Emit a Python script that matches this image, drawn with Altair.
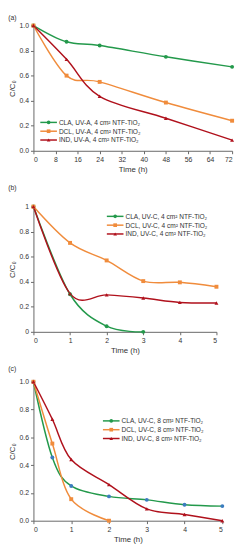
import altair as alt
import pandas as pd

FONT = "Liberation Sans"

# ---- data ----
names_a = ["CLA, UV-A, 4 cm² NTF-TiO₂", "DCL, UV-A, 4 cm² NTF-TiO₂", "IND,  UV-A, 4 cm² NTF-TiO₂"]
t_a = [0, 12, 24, 48, 72]
cla_a = [1.0, 0.87, 0.84, 0.75, 0.67]
dcl_a = [1.0, 0.60, 0.55, 0.385, 0.24]
ind_a = [1.0, 0.73, 0.435, 0.26, 0.085]

names_b = ["CLA, UV-C, 4 cm² NTF-TiO₂", "DCL, UV-C, 4 cm² NTF-TiO₂", "IND,  UV-C, 4 cm² NTF-TiO₂"]
t_b_cla = [0, 1, 2, 3]
cla_b = [1.0, 0.30, 0.045, 0.0]
t_b = [0, 1, 2, 3, 4, 5]
dcl_b = [1.0, 0.71, 0.57, 0.405, 0.395, 0.36]
ind_b = [1.0, 0.305, 0.295, 0.27, 0.235, 0.23]

names_c = ["CLA, UV-C, 8 cm² NTF-TiO₂", "DCL, UV-C, 8 cm² NTF-TiO₂", "IND,  UV-C, 8 cm² NTF-TiO₂"]
t_c = [0, 0.5, 1, 2, 3, 4, 5]
cla_c = [1.0, 0.455, 0.25, 0.175, 0.15, 0.115, 0.105]
t_c_dcl = [0, 0.5, 1, 2]
dcl_c = [1.0, 0.555, 0.155, 0.0]
ind_c = [1.0, 0.73, 0.44, 0.26, 0.085, 0.045, 0.0]

GREEN = "#23994b"
ORANGE = "#f08c3c"
RED = "#b0111c"
BLUE = "#3b7cbf"
SHAPES = ["circle", "square", "triangle-up"]


def long_df(names, series):
    rows = []
    for name, (ts, vs) in zip(names, series):
        for t, v in zip(ts, vs):
            rows.append({"series": name, "t": t, "v": v})
    return pd.DataFrame(rows)


def panel(title, names, series, xmax, xticks, width, height, yfmt,
          line_colors, marker_colors, lx, ly, toff):
    df = long_df(names, series)
    x = alt.X("t:Q", scale=alt.Scale(domain=[0, xmax], nice=False),
              axis=alt.Axis(values=xticks, title="Time (h)", format="d"))
    y = alt.Y("v:Q", scale=alt.Scale(domain=[0, 1], nice=False),
              axis=alt.Axis(values=[0, 0.2, 0.4, 0.6, 0.8, 1.0], format=yfmt,
                            title="C/C₀"))
    lines = alt.Chart(df).mark_line(interpolate="cardinal", strokeWidth=1.5).encode(
        x=x, y=y,
        color=alt.Color("series:N", scale=alt.Scale(domain=names, range=line_colors), legend=None),
    )
    pts = alt.Chart(df).mark_point(filled=True, size=16, opacity=1, strokeWidth=0).encode(
        x=x, y=y,
        fill=alt.Fill("series:N", scale=alt.Scale(domain=names, range=marker_colors), legend=None),
        shape=alt.Shape("series:N", scale=alt.Scale(domain=names, range=SHAPES), legend=None),
    )
    layers = [lines, pts]
    for i, name in enumerate(names):
        yy = ly + i * 9
        one = pd.DataFrame({"label": [name]})
        layers.append(alt.Chart(one).mark_rule(color=line_colors[i], strokeWidth=1.5).encode(
            x=alt.value(lx), x2=alt.value(lx + 17), y=alt.value(yy)))
        layers.append(alt.Chart(one).mark_point(filled=True, size=14, opacity=1, strokeWidth=0).encode(
            x=alt.value(lx + 8.5), y=alt.value(yy), fill=alt.value(line_colors[i]),
            shape=alt.value(SHAPES[i])))
        layers.append(alt.Chart(one).mark_text(align="left", baseline="middle", fontSize=6.7,
                                              font=FONT, color="#333333").encode(
            x=alt.value(lx + 19), y=alt.value(yy + 0.5), text="label:N"))
    return alt.layer(*layers).properties(
        width=width, height=height,
        title=alt.TitleParams(title, anchor="start", fontSize=7, fontWeight="normal",
                              font=FONT, color="#333333", offset=toff),
    )


pa = panel("(a)", names_a, [(t_a, cla_a), (t_a, dcl_a), (t_a, ind_a)],
           72, list(range(0, 73, 8)), 203, 128, ".1f",
           [GREEN, ORANGE, RED], [GREEN, ORANGE, RED], 7, 99, 1)
pb = panel("(b)", names_b, [(t_b_cla, cla_b), (t_b, dcl_b), (t_b, ind_b)],
           5, [0, 1, 2, 3, 4, 5], 187, 128, "~g",
           [GREEN, ORANGE, RED], [GREEN, ORANGE, RED], 75, 10, 12)
pc = panel("(c)", names_c, [(t_c, cla_c), (t_c_dcl, dcl_c), (t_c, ind_c)],
           5, [0, 1, 2, 3, 4, 5], 193, 142, ".1f",
           [GREEN, ORANGE, RED], [BLUE, ORANGE, RED], 71, 40, 6)

chart = alt.vconcat(pa, pb, pc, spacing=11).resolve_scale(
    color="independent", fill="independent", shape="independent"
).properties(padding={"left": 0, "top": 0, "right": 2, "bottom": 0}).configure_view(
    stroke=None
).configure_axis(
    labelFont=FONT, titleFont=FONT, labelFontSize=7, titleFontSize=8,
    titleFontWeight="normal", labelColor="#333333", titleColor="#333333",
    domainColor="#666666", tickColor="#666666", tickSize=3, grid=False,
    labelPadding=2, titlePadding=3,
)

chart.save("out.html", embed_options={"renderer": "svg", "actions": False})
